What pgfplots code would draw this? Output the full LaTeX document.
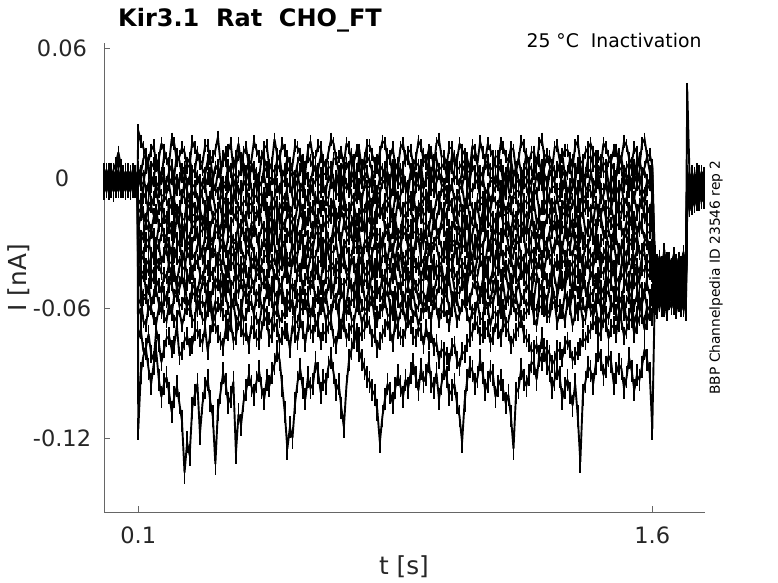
\documentclass[border=0pt]{standalone}
\usepackage{fontspec}
\setmainfont{DejaVu Sans}
\usepackage{pgfplots}
\usepackage{pgfplotstable}
\pgfplotsset{compat=1.18}
\pgfplotstableread{
t c1 c2 c3 c4 c5 c6 c7 c8 c9 c10 c11 c12 c13 c14 c15 c16 c17 c18 c19
0.000 2 -3 0 -5 1 -2 3 -6 -1 2 -4 0 -3 1 -7 -2 4 -1 -5
0.007 -4 1 -6 2 -2 4 -5 0 3 -3 1 -6 2 -4 0 3 -2 -5 1
0.014 3 -5 2 -1 -6 0 2 -3 -7 1 -2 4 -5 0 2 -6 -1 3 -3
0.021 -1 2 -4 4 0 -5 -2 3 0 -6 3 -2 1 -5 -3 1 -6 0 2
0.028 4 -2 1 -6 3 -1 -4 1 -3 2 -5 1 -6 3 -1 -4 2 -3 -6
0.035 7 3 -3 0 -4 2 1 -5 2 -2 0 -4 3 -2 -6 0 -3 1 -1
0.042 12 9 0 -3 2 -6 -3 2 -5 4 -3 2 -1 -6 1 -3 0 -5 3
0.049 6 4 -5 1 -2 3 -6 -1 1 -4 2 -5 0 2 -4 2 -5 1 -2
0.056 0 -2 3 -4 -6 0 2 -4 -2 1 -6 3 -3 -1 2 -6 1 -2 0
0.063 -3 1 -1 2 1 -4 -3 3 -6 -2 0 -1 2 -4 -3 1 -4 3 -5
0.070 2 -5 2 -6 -3 2 0 -2 1 3 -4 -6 -2 1 -5 3 -1 -4 2
0.077 -5 3 -4 1 2 -3 -5 1 -3 -5 2 0 -5 3 0 -2 2 -6 -1
0.084 1 -1 0 -3 -5 4 -1 -6 2 0 -3 2 1 -6 2 -5 -3 0 -4
0.091 -2 2 -5 3 0 -2 3 -3 -4 -6 1 -3 -4 0 -6 1 -5 2 1
0.098 3 -4 1 -2 -4 1 -6 0 -1 2 -5 1 3 -3 -1 -4 0 -3 -2
0.100 22 4 5 -4 -3 -14 -12 -23 -21 -33 -30 -41 -39 -50 -48 -60 -58 -74 -116
0.1075 17 2 -3 3 -1 -16 -10 -17 -29 -27 -38 -33 -47 -44 -50 -63 -56 -70 -90
0.115 14 9 -2 1 -9 -7 -19 -16 -27 -25 -36 -35 -45 -43 -56 -54 -66 -80 -82
0.1225 10 11 5 -6 -7 -9 -20 -21 -19 -31 -28 -44 -40 -52 -55 -54 -68 -78 -79
0.130 8 3 6 -5 -2 -15 -11 -24 -20 -32 -29 -42 -38 -51 -49 -61 -59 -72 -88
0.1375 13 5 -4 1 -11 -13 -13 -25 -25 -24 -35 -36 -48 -42 -58 -59 -60 -81 -95
0.145 15 7 0 -1 -10 -9 -17 -18 -28 -26 -37 -34 -46 -44 -54 -55 -65 -84 -86
0.1525 6 8 7 -4 -2 -6 -18 -15 -30 -33 -31 -42 -37 -49 -47 -52 -67 -70 -80
0.160 9 2 4 -6 -4 -13 -14 -22 -22 -31 -31 -40 -40 -49 -50 -58 -60 -76 -93
0.1675 16 0 1 2 -8 -15 -11 -22 -21 -26 -39 -39 -44 -53 -51 -62 -57 -85 -101
0.175 13 10 -3 2 -8 -8 -18 -17 -26 -27 -35 -36 -44 -45 -53 -56 -64 -79 -95
0.1825 9 9 -2 -7 -4 -10 -21 -18 -27 -30 -27 -33 -46 -46 -57 -55 -66 -74 -92
0.190 7 5 3 -3 -3 -14 -12 -23 -20 -33 -30 -41 -39 -50 -48 -60 -58 -73 -99
0.1975 18 4 6 0 -11 -12 -14 -26 -23 -35 -36 -43 -39 -41 -49 -63 -61 -79 -108
0.205 16 1 1 -5 -9 -10 -16 -19 -27 -25 -36 -35 -45 -43 -55 -54 -66 -77 -101
0.2125 8 11 -1 -5 -1 -17 -16 -15 -18 -28 -32 -37 -48 -51 -54 -51 -64 -68 -96
0.220 10 8 -2 0 -5 -15 -13 -21 -23 -31 -29 -39 -41 -48 -51 -59 -61 -82 -104
0.2275 14 1 4 3 -9 -8 -19 -24 -29 -24 -38 -41 -36 -45 -46 -58 -68 -80 -112
0.235 12 4 5 -4 -2 -9 -19 -24 -21 -28 -34 -42 -38 -51 -47 -55 -63 -75 -136
0.2425 5 7 -4 -3 -6 -14 -10 -20 -26 -33 -29 -34 -45 -49 -58 -60 -59 -73 -122
0.250 6 9 0 1 -10 -12 -11 -17 -28 -32 -31 -37 -46 -44 -56 -61 -57 -78 -128
0.2575 17 3 3 -8 -3 -11 -17 -23 -20 -30 -35 -44 -43 -43 -51 -53 -66 -77 -106
0.265 14 3 4 -6 -4 -14 -17 -22 -20 -26 -37 -40 -39 -50 -49 -54 -65 -71 -100
0.2725 11 12 0 1 -10 -16 -13 -17 -28 -25 -31 -39 -38 -53 -55 -61 -56 -70 -95
0.280 8 7 -3 -1 -8 -7 -14 -20 -25 -33 -30 -35 -44 -46 -54 -58 -60 -74 -118
0.2875 7 4 -3 -4 -5 -9 -20 -22 -24 -34 -37 -36 -47 -46 -48 -57 -65 -76 -104
0.295 15 2 2 -4 -3 -13 -18 -15 -22 -27 -35 -41 -40 -48 -50 -60 -66 -69 -97
0.3025 15 8 7 0 -12 -13 -11 -26 -19 -28 -30 -42 -41 -50 -57 -52 -61 -80 -93
0.310 9 10 -1 2 -9 -10 -12 -23 -27 -30 -32 -38 -45 -43 -56 -55 -59 -72 -103
0.3175 10 0 -1 -6 -2 -7 -18 -18 -30 -31 -34 -32 -44 -44 -51 -63 -67 -67 -110
0.325 13 5 5 -5 -5 -15 -16 -19 -21 -25 -36 -34 -41 -51 -48 -57 -63 -68 -132
0.3325 19 6 4 3 -7 -15 -14 -21 -23 -25 -39 -40 -37 -49 -46 -58 -59 -72 -107
0.340 7 1 1 0 -2 -8 -13 -24 -26 -31 -29 -40 -38 -47 -53 -61 -58 -75 -99
0.3475 8 10 -2 -5 -9 -10 -21 -16 -27 -33 -28 -37 -47 -52 -56 -54 -63 -78 -90
0.355 12 8 -2 -3 -10 -12 -19 -18 -20 -34 -34 -43 -44 -45 -49 -54 -64 -70 -95
0.3625 13 3 6 -1 -4 -17 -12 -25 -22 -27 -36 -43 -43 -42 -50 -60 -68 -71 -104
0.370 16 4 3 -6 -6 -14 -11 -21 -25 -27 -31 -36 -40 -50 -55 -59 -61 -67 -101
0.3775 4 7 -4 2 -11 -8 -17 -19 -29 -30 -32 -35 -39 -48 -58 -56 -57 -75 -94
0.385 10 6 0 1 -3 -9 -17 -16 -28 -30 -37 -39 -46 -44 -51 -56 -66 -73 -127
0.3925 16 11 1 -7 -6 -14 -15 -23 -21 -34 -29 -40 -46 -47 -53 -61 -64 -66 -109
0.400 6 9 4 -4 -8 -13 -14 -22 -22 -24 -32 -41 -39 -48 -47 -62 -59 -69 -114
0.4075 12 2 7 -3 -1 -11 -20 -17 -25 -26 -37 -44 -40 -53 -47 -53 -66 -73 -103
0.415 14 3 -3 -1 -4 -10 -18 -19 -26 -32 -35 -35 -43 -52 -53 -55 -63 -71 -98
0.4225 6 8 -3 3 -10 -16 -12 -26 -30 -31 -33 -33 -48 -44 -55 -59 -58 -77 -91
0.430 8 7 6 -5 -9 -16 -12 -25 -21 -28 -30 -42 -37 -46 -50 -58 -57 -68 -96
0.4375 17 5 2 -6 -5 -9 -16 -21 -20 -24 -35 -39 -38 -50 -51 -62 -63 -70 -100
0.445 13 2 1 2 -2 -8 -16 -17 -27 -26 -38 -37 -45 -43 -56 -54 -65 -74 -94
0.4525 10 0 -4 -2 -8 -13 -19 -14 -28 -33 -39 -42 -44 -41 -57 -52 -68 -75 -89
0.460 9 10 -2 -2 -7 -12 -13 -21 -23 -33 -31 -40 -41 -49 -49 -60 -60 -70 -97
0.4675 14 9 5 1 -12 -7 -10 -24 -23 -28 -29 -36 -45 -48 -48 -58 -60 -64 -102
0.475 15 5 3 -6 -5 -14 -19 -23 -25 -29 -34 -36 -47 -45 -52 -53 -62 -66 -93
0.4825 5 6 0 -5 -3 -16 -18 -20 -26 -32 -36 -43 -39 -52 -56 -55 -65 -74 -96
0.490 7 4 0 0 -10 -9 -15 -18 -22 -31 -28 -39 -38 -52 -48 -57 -67 -72 -90
0.4975 18 3 -3 -1 -9 -10 -13 -25 -19 -25 -31 -37 -47 -45 -53 -63 -57 -67 -86
0.505 11 8 4 -4 -3 -15 -11 -20 -28 -26 -36 -42 -44 -44 -55 -61 -59 -69 -80
0.5125 9 10 6 -7 -5 -14 -21 -16 -29 -35 -38 -33 -42 -50 -49 -51 -66 -76 -84
0.520 16 1 -2 1 -8 -11 -17 -24 -20 -30 -32 -35 -40 -48 -51 -55 -64 -73 -96
0.5275 13 4 -1 2 -10 -12 -12 -22 -22 -29 -30 -42 -36 -43 -58 -59 -62 -70 -108
0.535 10 9 5 -3 -4 -7 -14 -16 -26 -27 -37 -41 -43 -46 -54 -58 -61 -71 -125
0.5425 7 7 3 -4 -2 -17 -16 -19 -27 -24 -37 -38 -48 -49 -52 -56 -59 -79 -115
0.550 6 3 1 -5 -9 -13 -18 -21 -24 -33 -30 -38 -37 -50 -49 -60 -56 -68 -120
0.5575 15 1 -4 0 -11 -8 -20 -26 -21 -31 -34 -35 -41 -53 -50 -62 -67 -72 -104
0.565 14 7 -1 2 -6 -10 -12 -22 -29 -25 -35 -40 -45 -43 -57 -54 -66 -75 -94
0.5725 11 11 4 -5 -5 -14 -11 -15 -30 -27 -28 -43 -45 -42 -56 -53 -61 -65 -88
0.580 8 2 3 -6 -2 -15 -16 -19 -21 -31 -29 -36 -39 -51 -50 -59 -60 -70 -97
0.5875 3 5 0 3 -8 -11 -18 -23 -24 -34 -39 -39 -37 -47 -54 -58 -56 -76 -102
0.595 13 10 0 -1 -10 -8 -19 -17 -27 -28 -34 -43 -46 -45 -53 -56 -63 -67 -92
0.6025 17 8 -2 -7 -3 -16 -14 -20 -28 -30 -32 -36 -46 -51 -48 -63 -64 -70 -97
0.610 9 5 4 -3 -5 -14 -13 -25 -23 -32 -37 -37 -41 -48 -47 -61 -58 -72 -95
0.6175 10 3 6 -1 -12 -9 -21 -17 -19 -25 -36 -44 -40 -44 -57 -55 -68 -67 -85
0.625 15 4 -3 0 -7 -9 -17 -18 -25 -26 -31 -39 -44 -44 -55 -53 -65 -69 -90
0.6325 14 10 -3 2 -6 -15 -13 -24 -26 -33 -29 -38 -48 -50 -51 -60 -58 -75 -99
0.640 7 8 2 -4 -3 -12 -11 -22 -20 -30 -36 -41 -38 -50 -52 -58 -59 -71 -93
0.6475 5 6 2 -6 -9 -10 -17 -21 -23 -28 -37 -32 -43 -46 -55 -54 -66 -72 -95
0.655 12 1 5 1 -9 -13 -18 -20 -28 -33 -30 -35 -43 -46 -49 -62 -62 -68 -87
0.6625 18 0 5 -2 -1 -13 -12 -18 -30 -31 -34 -41 -39 -53 -47 -61 -63 -66 -83
0.670 16 9 -1 -5 -4 -10 -14 -16 -22 -27 -34 -42 -40 -52 -54 -56 -57 -74 -90
0.6775 9 9 -4 1 -7 -17 -20 -25 -22 -24 -30 -40 -46 -42 -56 -58 -57 -77 -98
0.685 10 3 3 -2 -8 -16 -16 -23 -26 -25 -38 -38 -46 -43 -51 -59 -64 -70 -95
0.6925 12 4 1 -5 -11 -8 -15 -15 -28 -34 -38 -34 -41 -49 -52 -53 -68 -70 -106
0.700 6 7 0 2 -5 -8 -12 -19 -21 -31 -31 -36 -39 -49 -56 -55 -61 -67 -115
0.7075 16 7 7 -3 -4 -15 -18 -22 -25 -29 -32 -43 -44 -47 -58 -63 -60 -74 -96
0.715 14 5 4 -6 -2 -14 -19 -24 -27 -28 -35 -41 -45 -45 -48 -60 -58 -71 -84
0.7225 7 11 -1 3 -8 -12 -11 -20 -20 -26 -36 -37 -37 -52 -49 -56 -65 -68 -79
0.730 8 2 -2 -1 -10 -11 -13 -17 -23 -32 -29 -39 -41 -51 -53 -57 -66 -69 -74
0.7375 13 2 4 -7 -3 -9 -19 -26 -29 -32 -29 -42 -47 -43 -55 -51 -59 -76 -72
0.745 13 10 6 -3 -6 -7 -17 -21 -25 -26 -36 -34 -38 -44 -50 -54 -60 -73 -80
0.7525 4 6 -2 0 -10 -16 -14 -17 -22 -35 -39 -35 -40 -50 -46 -59 -67 -71 -84
0.760 9 4 1 1 -3 -15 -15 -25 -20 -30 -32 -42 -44 -47 -55 -61 -63 -70 -88
0.7675 15 10 3 -4 -5 -10 -16 -21 -27 -28 -31 -41 -45 -48 -57 -60 -62 -65 -92
0.775 15 8 -3 -4 -9 -12 -11 -18 -28 -33 -37 -37 -43 -50 -47 -56 -59 -68 -94
0.7825 11 3 -4 2 -12 -14 -21 -24 -19 -25 -35 -44 -38 -44 -53 -54 -56 -74 -98
0.790 7 3 3 -5 -4 -9 -18 -22 -22 -27 -30 -40 -47 -46 -52 -58 -65 -72 -100
0.7975 6 8 5 -6 -7 -8 -12 -18 -26 -33 -33 -38 -43 -53 -50 -62 -66 -79 -107
0.805 12 6 0 0 -7 -13 -14 -16 -26 -29 -35 -43 -39 -53 -54 -62 -61 -75 -122
0.8125 17 4 0 -1 -2 -15 -17 -15 -30 -31 -28 -36 -48 -45 -56 -58 -61 -72 -110
0.820 16 2 5 -2 -2 -10 -16 -23 -24 -24 -33 -36 -45 -45 -49 -55 -57 -69 -102
0.8275 9 11 -3 3 -9 -11 -13 -23 -21 -26 -38 -42 -40 -49 -48 -52 -63 -66 -95
0.835 10 9 -1 -6 -10 -14 -12 -20 -29 -31 -29 -41 -40 -49 -51 -59 -64 -71 -99
0.8425 14 1 6 -5 -5 -17 -20 -20 -25 -34 -34 -33 -46 -42 -55 -63 -58 -76 -104
0.850 6 5 2 1 -5 -8 -19 -19 -21 -27 -38 -39 -42 -44 -56 -53 -60 -67 -97
0.8575 4 7 -1 -2 -11 -9 -11 -26 -28 -29 -30 -40 -37 -51 -52 -57 -67 -70 -91
0.865 14 1 4 -3 -8 -15 -13 -24 -27 -32 -31 -35 -46 -51 -48 -60 -62 -73 -96
0.8725 16 5 2 2 -4 -14 -18 -18 -22 -25 -37 -44 -44 -47 -58 -55 -60 -74 -101
0.880 8 10 -2 -5 -3 -11 -17 -17 -23 -26 -36 -42 -38 -47 -53 -57 -66 -70 -93
0.8875 12 9 -4 -7 -8 -12 -15 -22 -29 -32 -32 -37 -49 -44 -50 -61 -57 -65 -97
0.895 13 4 3 2 -9 -9 -14 -22 -25 -30 -34 -37 -44 -43 -55 -54 -58 -68 -90
0.9025 6 0 4 -1 -12 -7 -20 -25 -20 -35 -36 -35 -41 -52 -46 -53 -64 -73 -86
0.910 9 7 0 -4 -4 -16 -18 -25 -20 -28 -30 -40 -41 -50 -50 -61 -61 -74 -92
0.9175 17 6 1 3 -3 -16 -13 -16 -26 -27 -28 -42 -39 -49 -56 -59 -68 -69 -98
0.925 15 3 6 -1 -6 -12 -11 -18 -26 -33 -37 -38 -47 -46 -52 -55 -63 -71 -88
0.9325 8 11 -3 -5 -9 -10 -17 -21 -30 -24 -39 -39 -47 -41 -53 -62 -59 -77 -94
0.940 7 8 -1 0 -10 -8 -16 -21 -22 -25 -32 -43 -39 -44 -57 -59 -57 -69 -91
0.9475 13 3 7 0 -6 -13 -12 -24 -23 -33 -33 -33 -43 -48 -49 -54 -62 -75 -85
0.955 12 2 2 -5 -2 -14 -13 -16 -28 -30 -35 -36 -43 -52 -49 -56 -65 -72 -94
0.9625 5 8 -2 -6 -1 -17 -21 -19 -19 -30 -30 -44 -38 -53 -57 -58 -56 -78 -97
0.970 16 9 4 -2 -7 -10 -19 -23 -24 -27 -31 -41 -45 -47 -54 -60 -60 -76 -90
0.9775 18 4 3 2 -11 -9 -14 -26 -27 -28 -37 -40 -45 -45 -50 -63 -66 -84 -102
0.985 10 5 -3 1 -5 -15 -14 -20 -21 -32 -36 -39 -40 -45 -51 -58 -62 -79 -95
0.9925 10 7 -4 -3 -7 -14 -18 -15 -24 -35 -32 -36 -48 -49 -55 -55 -61 -80 -88
1.000 6 1 1 -6 -9 -9 -17 -19 -27 -26 -33 -37 -44 -50 -48 -54 -64 -82 -92
1.0075 14 2 5 -7 -4 -12 -10 -22 -29 -25 -35 -43 -37 -42 -47 -60 -68 -85 -100
1.015 14 10 5 -3 -3 -13 -12 -24 -23 -31 -29 -42 -38 -43 -55 -61 -58 -78 -98
1.0225 7 10 0 1 -10 -16 -20 -20 -21 -31 -29 -34 -44 -51 -58 -52 -59 -77 -95
1.030 8 4 0 0 -8 -11 -18 -17 -25 -28 -37 -35 -46 -51 -53 -56 -66 -84 -104
1.0375 16 5 -3 -4 -5 -8 -15 -25 -26 -33 -38 -41 -41 -46 -53 -62 -63 -87 -110
1.045 13 7 3 -4 -4 -16 -15 -22 -29 -24 -32 -40 -41 -46 -49 -59 -59 -80 -122
1.0525 11 8 6 2 -12 -14 -12 -16 -22 -27 -31 -39 -47 -52 -50 -56 -57 -81 -103
1.060 9 3 -2 2 -10 -7 -11 -21 -20 -33 -34 -43 -43 -49 -56 -54 -63 -76 -93
1.0675 4 3 -1 -6 -6 -10 -18 -23 -28 -24 -36 -32 -40 -42 -56 -58 -67 -74 -87
1.075 15 9 6 -5 -6 -14 -19 -18 -26 -30 -38 -38 -39 -44 -51 -62 -61 -71 -89
1.0825 13 11 3 -2 -2 -17 -14 -19 -20 -35 -29 -44 -45 -48 -48 -63 -60 -66 -95
1.090 7 6 1 -1 -2 -10 -13 -25 -24 -26 -30 -36 -45 -48 -54 -57 -57 -68 -92
1.0975 17 1 -4 3 -9 -12 -21 -24 -27 -30 -35 -38 -38 -53 -55 -53 -65 -73 -84
1.105 12 2 -1 1 -9 -12 -16 -16 -22 -32 -35 -41 -40 -52 -47 -55 -65 -72 -90
1.1125 8 7 7 -7 -7 -8 -11 -17 -23 -26 -39 -43 -43 -41 -51 -60 -56 -70 -98
1.120 16 8 4 -6 -5 -15 -12 -20 -28 -27 -31 -39 -47 -45 -53 -60 -60 -69 -94
1.1275 13 4 0 -1 -11 -15 -16 -22 -30 -34 -30 -36 -48 -49 -57 -57 -68 -76 -89
1.135 10 5 0 -2 -7 -8 -18 -23 -21 -29 -37 -34 -42 -43 -50 -58 -62 -73 -91
1.1425 5 10 -3 1 -4 -11 -20 -26 -19 -28 -37 -41 -36 -45 -46 -51 -62 -67 -101
1.150 6 10 3 0 -3 -13 -14 -19 -25 -33 -29 -42 -38 -50 -56 -53 -64 -70 -96
1.1575 16 6 6 -4 -8 -7 -12 -15 -26 -31 -32 -33 -45 -52 -54 -62 -58 -74 -93
1.165 14 3 -2 -4 -10 -11 -17 -21 -27 -25 -36 -37 -44 -46 -49 -61 -59 -67 -98
1.1725 10 0 2 -7 -1 -16 -17 -21 -23 -24 -34 -44 -41 -44 -58 -58 -67 -69 -104
1.180 8 7 5 2 -4 -16 -11 -24 -20 -31 -32 -40 -41 -51 -52 -56 -66 -71 -100
1.1875 14 9 -4 3 -11 -13 -14 -25 -29 -34 -38 -37 -49 -51 -47 -54 -60 -77 -110
1.195 13 1 1 -5 -8 -9 -19 -17 -24 -28 -35 -43 -46 -44 -55 -59 -58 -74 -125
1.2025 3 5 4 -2 -6 -9 -21 -18 -21 -30 -29 -42 -37 -46 -53 -63 -55 -71 -99
1.210 9 9 -1 -1 -6 -14 -13 -22 -28 -30 -30 -36 -39 -48 -48 -62 -61 -69 -97
1.2175 17 2 -1 -5 -9 -17 -11 -22 -27 -26 -36 -38 -44 -42 -56 -56 -66 -65 -88
1.225 15 4 4 1 -2 -10 -16 -20 -22 -27 -38 -38 -43 -47 -54 -55 -63 -72 -93
1.2325 9 11 5 0 -4 -11 -18 -26 -24 -35 -33 -44 -39 -49 -50 -59 -62 -74 -96
1.240 7 6 0 -3 -9 -12 -15 -16 -26 -32 -33 -41 -45 -52 -51 -57 -60 -76 -91
1.2475 12 4 -3 -7 -11 -15 -15 -15 -19 -27 -39 -33 -47 -53 -58 -52 -56 -80 -85
1.255 12 2 6 -6 -5 -7 -12 -25 -23 -24 -37 -35 -40 -45 -56 -60 -65 -79 -86
1.2625 6 7 2 2 -7 -7 -20 -21 -28 -33 -30 -40 -42 -44 -46 -61 -68 -77 -93
1.270 16 8 -3 0 -3 -15 -18 -19 -21 -29 -31 -39 -38 -49 -49 -54 -59 -82 -82
1.2775 18 1 6 -3 -1 -14 -13 -23 -25 -24 -37 -43 -36 -50 -52 -55 -60 -85 -74
1.285 10 5 2 -4 -10 -11 -14 -23 -29 -31 -34 -42 -44 -43 -53 -58 -61 -78 -80
1.2925 11 10 -2 -6 -12 -12 -17 -18 -30 -30 -31 -35 -48 -47 -57 -63 -64 -79 -86
1.300 6 10 4 2 -7 -9 -17 -18 -25 -26 -36 -37 -47 -50 -50 -61 -64 -81 -89
1.3075 4 6 1 1 -4 -17 -12 -25 -20 -35 -35 -41 -43 -41 -49 -53 -58 -86 -97
1.315 14 3 -1 -2 -4 -13 -11 -21 -20 -33 -30 -40 -41 -46 -55 -56 -57 -84 -93
1.3225 15 3 5 -5 -9 -9 -21 -20 -27 -26 -28 -38 -40 -52 -55 -59 -67 -79 -88
1.330 8 7 3 -5 -8 -16 -19 -24 -27 -28 -32 -43 -38 -44 -48 -59 -62 -80 -92
1.3375 10 11 -4 3 -6 -13 -14 -16 -23 -32 -39 -32 -49 -49 -46 -62 -61 -83 -102
1.345 13 1 0 1 -2 -10 -13 -17 -22 -25 -38 -36 -46 -51 -52 -53 -66 -77 -97
1.3525 13 2 3 -7 -11 -16 -18 -26 -29 -29 -33 -44 -37 -43 -58 -55 -57 -75 -93
1.360 9 9 5 -3 -9 -8 -16 -22 -24 -32 -33 -41 -43 -47 -54 -60 -60 -79 -99
1.3675 5 8 -1 0 -3 -10 -11 -19 -20 -24 -36 -39 -45 -53 -51 -52 -68 -84 -105
1.375 15 4 -2 -6 -5 -14 -12 -20 -28 -30 -29 -38 -40 -45 -49 -57 -63 -82 -95
1.3825 17 5 7 -4 -8 -13 -20 -23 -26 -34 -30 -35 -41 -46 -53 -63 -60 -80 -110
1.390 7 6 2 0 -3 -12 -18 -16 -21 -27 -36 -35 -45 -49 -56 -55 -58 -78 -131
1.3975 8 0 -3 2 -12 -8 -16 -16 -30 -28 -38 -43 -48 -42 -48 -58 -66 -74 -100
1.405 12 2 0 -4 -10 -9 -14 -25 -26 -31 -31 -42 -39 -52 -50 -62 -65 -75 -94
1.4125 14 9 3 -6 -5 -15 -13 -24 -22 -31 -32 -37 -39 -51 -57 -54 -56 -72 -87
1.420 16 10 4 2 -6 -15 -15 -19 -23 -26 -35 -39 -44 -43 -53 -58 -61 -70 -89
1.4275 12 6 -4 -3 -10 -11 -21 -21 -28 -25 -37 -41 -44 -47 -54 -61 -64 -66 -95
1.435 10 5 -1 -1 -4 -11 -11 -22 -27 -33 -30 -36 -47 -48 -47 -56 -59 -68 -86
1.4425 3 10 2 3 -2 -17 -15 -17 -19 -35 -29 -34 -47 -44 -49 -55 -67 -73 -80
1.450 6 8 3 -5 -9 -7 -17 -18 -20 -29 -37 -43 -41 -50 -55 -60 -64 -71 -84
1.4575 16 3 7 -5 -8 -10 -12 -25 -26 -28 -35 -44 -36 -53 -56 -63 -58 -65 -91
1.465 14 3 6 -2 -2 -13 -19 -24 -25 -25 -32 -40 -38 -45 -51 -54 -62 -67 -87
1.4725 10 8 -3 -7 -11 -14 -18 -19 -24 -32 -39 -38 -43 -48 -47 -52 -65 -74 -82
1.480 8 7 -2 1 -8 -14 -13 -21 -29 -31 -34 -37 -43 -46 -49 -59 -57 -69 -85
1.4875 13 4 1 0 -4 -8 -20 -23 -29 -24 -30 -42 -41 -42 -53 -58 -60 -68 -95
1.495 13 1 1 -6 -5 -10 -16 -16 -22 -28 -38 -41 -46 -52 -54 -61 -63 -72 -90
1.5025 6 11 5 -4 -7 -15 -11 -15 -21 -34 -37 -33 -48 -50 -58 -56 -68 -62 -86
1.510 9 9 4 -3 -3 -16 -12 -23 -24 -32 -31 -35 -40 -44 -56 -55 -60 -66 -88
1.5175 17 2 -4 3 -12 -12 -17 -26 -27 -27 -33 -43 -37 -46 -50 -63 -57 -73 -97
1.525 15 5 0 0 -10 -9 -18 -20 -26 -27 -36 -42 -44 -49 -48 -57 -66 -70 -92
1.5325 9 7 2 -6 -1 -16 -14 -22 -22 -31 -28 -37 -46 -52 -55 -54 -63 -66 -83
1.540 7 4 -3 -4 -6 -12 -14 -17 -21 -30 -29 -38 -39 -47 -53 -62 -58 -65 -89
1.5475 14 0 6 -2 -9 -9 -21 -18 -30 -25 -39 -40 -40 -45 -48 -59 -67 -72 -98
1.555 12 8 5 2 -3 -15 -17 -25 -27 -26 -33 -40 -45 -43 -50 -54 -62 -68 -91
1.5625 5 9 -2 2 -5 -14 -12 -24 -20 -35 -34 -44 -47 -49 -57 -61 -55 -64 -93
1.570 16 2 1 -5 -9 -8 -11 -19 -23 -33 -35 -36 -42 -51 -55 -58 -64 -63 -87
1.5775 18 5 3 -7 -11 -11 -18 -16 -28 -29 -31 -35 -43 -53 -51 -53 -66 -70 -79
1.585 10 10 -1 -1 -5 -13 -16 -22 -25 -28 -30 -43 -38 -46 -49 -60 -59 -66 -84
1.5925 11 3 -1 -3 -3 -16 -15 -21 -25 -32 -36 -42 -39 -44 -54 -60 -61 -62 -90
1.600 6 5 3 -3 -7 -10 -14 -20 -22 -31 -37 -39 -45 -44 -52 -56 -63 -64 -116
1.607 -36 -48 -45 -34 -51 -50 -47 -44 -60 -35 -56 -41 -54 -53 -47 -43 -59 -45 -57
1.614 -44 -40 -54 -42 -42 -58 -38 -52 -52 -44 -48 -49 -46 -62 -39 -51 -51 -53 -49
1.621 -38 -47 -48 -36 -49 -51 -45 -45 -59 -37 -55 -42 -53 -55 -46 -44 -58 -46 -56
1.628 -43 -41 -53 -41 -43 -57 -39 -51 -53 -43 -49 -48 -47 -61 -40 -50 -52 -52 -50
1.635 -35 -46 -46 -33 -50 -52 -46 -43 -61 -36 -57 -40 -55 -54 -48 -42 -60 -44 -58
1.642 -45 -42 -55 -43 -41 -59 -37 -53 -51 -45 -47 -50 -45 -63 -38 -52 -50 -54 -48
1.649 -39 -45 -49 -37 -48 -50 -44 -46 -58 -38 -54 -43 -52 -56 -45 -45 -57 -47 -55
1.656 -42 -43 -52 -40 -44 -56 -40 -50 -54 -42 -50 -47 -48 -60 -41 -49 -53 -51 -51
1.663 -37 -47 -47 -35 -50 -53 -46 -44 -60 -36 -56 -41 -54 -54 -47 -43 -59 -45 -57
1.670 -44 -41 -54 -42 -42 -58 -38 -52 -52 -44 -48 -49 -46 -62 -39 -51 -51 -53 -49
1.677 -38 -46 -48 -37 -49 -51 -45 -45 -59 -37 -55 -42 -53 -55 -46 -44 -58 -46 -56
1.684 -43 -42 -53 -40 -43 -57 -39 -51 -53 -43 -49 -48 -47 -61 -40 -50 -52 -52 -50
1.691 -36 -46 -46 -34 -50 -52 -46 -43 -61 -36 -57 -40 -55 -54 -48 -42 -60 -44 -58
1.698 -45 -42 -55 -43 -41 -59 -37 -53 -51 -45 -47 -50 -45 -63 -38 -52 -50 -54 -48
1.702 2 -9 -4 -14 41 -6 1 -12 -3 -16 -7 0 -10 -2 -13 -5 3 -11 -8
1.709 -3 -2 -12 -6 -1 -14 -8 0 -11 -4 -15 -7 2 -9 -5 -12 -1 -6 -13
1.716 3 -10 -5 -13 -7 -2 -11 -4 1 -14 -6 -9 -3 -12 0 -8 -4 -10 -2
1.723 -4 0 -11 -7 2 -12 -5 -9 -3 -1 -13 -5 -8 1 -10 -3 -11 -6 -9
1.730 4 -8 -3 -12 -6 1 -10 -2 -9 -5 0 -11 -4 -7 -12 2 -6 -1 -10
1.737 -2 1 -10 -4 -11 -6 3 -8 -1 -12 -5 -3 -9 0 -7 -10 -2 -8 -4
1.744 3 -7 -2 -10 0 -9 -4 2 -11 -3 -8 1 -6 -10 -1 -5 -9 -3 -7
1.751 -1 2 -9 -5 -10 -3 -7 -1 -6 -11 -2 -8 0 -4 -9 -1 -5 -10 -3
}\traces
\begin{document}
\begin{tikzpicture}[x=1bp,y=1bp]
\useasboundingbox (0,0) rectangle (778,583);
\begin{axis}[
  at={(104bp,70.7bp)}, anchor=south west, scale only axis,
  width=600.7bp, height=469bp,
  xmin=0, xmax=1.753, ymin=-154.3, ymax=62.3,
  axis x line=bottom, axis y line=left,
  axis line style={-, draw=black!60, line width=0.7bp},
  tick align=inside, major tick length=6bp,
  tick style={draw=black!60, line width=0.7bp},
  xtick={0.1,1.6}, xticklabels={0.1,1.6},
  ytick={-120,-60,0,60}, yticklabels={-0.12,-0.06,0,0.06},
  ticklabel style={font=\fontsize{22.5bp}{27bp}\selectfont, text=black!85},
  xticklabel style={anchor=center, yshift=-23.2bp},
  yticklabel style={anchor=center, xshift=-42bp},
  clip=true,
  noisy/.style={black, line width=1.9bp, line join=miter, miter limit=3,
    mark=|, mark size=#1, mark options={line width=1.7bp, black}},
]
\pgfplotsinvokeforeach{1,...,17}{
  \addplot[noisy=6.5bp] table[x=t, y=c#1] {\traces};
}
\addplot[noisy=9bp] table[x=t, y=c18] {\traces};
\addplot[noisy=11bp] table[x=t, y=c19] {\traces};
\end{axis}
\node[anchor=base west, inner sep=0, font=\fontsize{24bp}{28bp}\selectfont\bfseries] at (118,556.3) {Kir3.1\ \ Rat\ \ CHO\_FT};
\node[anchor=base east, inner sep=0, font=\fontsize{18.8bp}{22bp}\selectfont] at (701.7,535.7) {25 °C\ \ Inactivation};
\node[rotate=90, inner sep=0, font=\fontsize{13.8bp}{16bp}\selectfont] at (716,305.5) {BBP Channelpedia ID 23546 rep 2};
\node[rotate=90, inner sep=0, font=\fontsize{24.75bp}{29bp}\selectfont, text=black!85] at (18.5,305.2) {I [nA]};
\node[anchor=base, inner sep=0, font=\fontsize{24.75bp}{29bp}\selectfont, text=black!85] at (404,8) {t [s]};
\end{tikzpicture}
\end{document}
